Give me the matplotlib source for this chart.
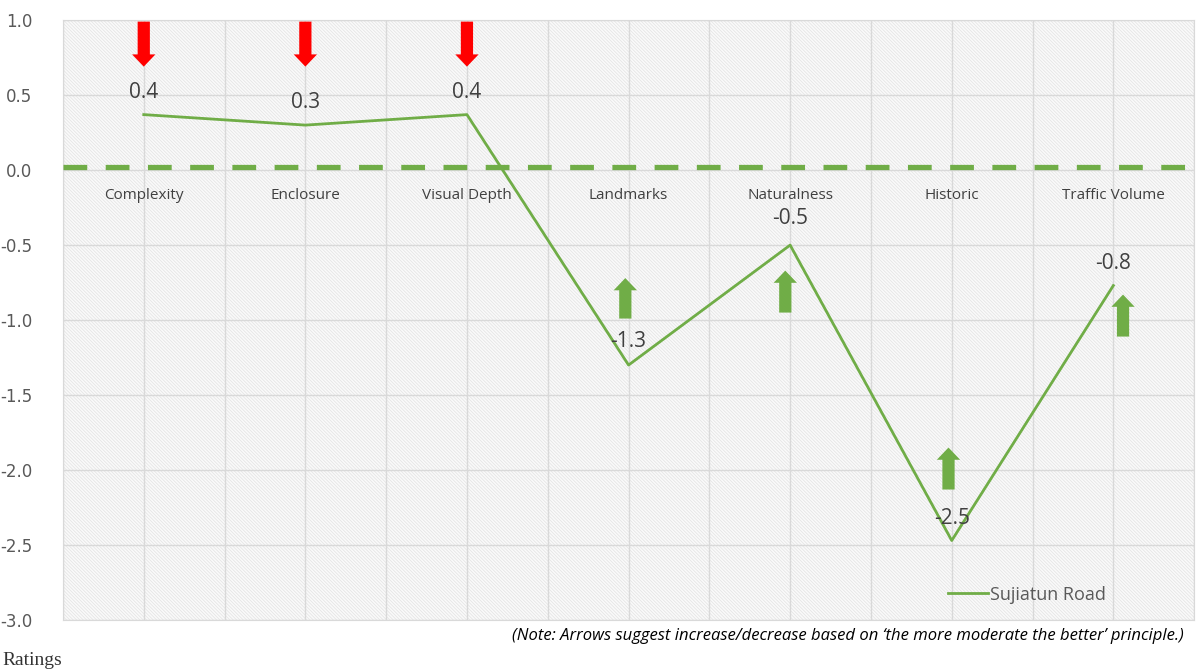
import numpy as np
import matplotlib.pyplot as plt
from matplotlib.patches import Rectangle

categories = ["Complexity", "Enclosure", "Visual Depth", "Landmarks",
              "Naturalness", "Historic", "Traffic Volume"]
ratings = [0.37, 0.30, 0.37, -1.30, -0.50, -2.47, -0.77]
series_name = "Sujiatun Road"

# suggested direction per category: -1 = decrease, +1 = increase
directions = [-1, -1, -1, 1, 1, 1, 1]
# (x offset, tail y, head y) for each arrow
arrow_spans = [(0.0, 0.99, 0.69), (0.0, 0.99, 0.69), (0.0, 0.99, 0.69),
               (-0.02, -0.99, -0.72), (-0.03, -0.95, -0.67),
               (-0.02, -2.13, -1.85), (0.06, -1.11, -0.83)]
label_y = [0.52, 0.45, 0.52, -1.14, -0.32, -2.32, -0.62]

yticks = np.arange(-3.0, 1.01, 0.5)
reference_level = 0.02

GREEN = "#70AD47"
RED = "#FF0000"
GRID = "#D9D9D9"
TEXT = "#595959"

plt.rcParams["hatch.color"] = "#E2E2E2"
plt.rcParams["hatch.linewidth"] = 0.5

fig = plt.figure(figsize=(11.97, 6.71), dpi=100)
ax = fig.add_axes([0.0526, 0.076, 0.945, 0.894])

x = np.arange(len(categories))
ax.set_xlim(-0.5, len(categories) - 0.5)
ax.set_ylim(-3.0, 1.0)

# hatched plot background
ax.add_patch(Rectangle((0, 0), 1, 1, transform=ax.transAxes, facecolor="#FAFAFA",
                       hatch="\\" * 10, edgecolor="#E2E2E2", lw=0, zorder=0))

for gy in yticks:
    ax.axhline(gy, color=GRID, lw=1, zorder=1)
for gx in np.arange(-0.5, len(categories), 0.5):
    ax.axvline(gx, color=GRID, lw=1, zorder=1)

for s in ax.spines.values():
    s.set_color(GRID)

ax.set_yticks(yticks)
ax.set_yticklabels([f"{v:.1f}" for v in yticks], fontsize=12, color=TEXT)
ax.set_xticks([])
ax.tick_params(axis="y", length=0, pad=22)

# dashed reference line just above zero
ax.axhline(reference_level, color=GREEN, lw=3.8, ls=(0, (4.5, 3.5)), zorder=3)

line, = ax.plot(x, ratings, color=GREEN, lw=2, zorder=4, label=series_name)

for xi, name in zip(x, categories):
    ax.text(xi, -0.17, name, ha="center", va="center", fontsize=11, color="#404040",
            family="Open Sans", zorder=5)

for xi, val, ly in zip(x, ratings, label_y):
    ax.text(xi, ly, f"{val:.1f}", ha="center", va="center", fontsize=15,
            color="#404040", family="Open Sans", zorder=6)

for xi, d, (dx, tail, head) in zip(x, directions, arrow_spans):
    ax.annotate("", xy=(xi + dx, head), xytext=(xi + dx, tail),
                arrowprops=dict(arrowstyle="simple,head_length=0.55,head_width=1.05,tail_width=0.55",
                                mutation_scale=16, color=RED if d < 0 else GREEN,
                                shrinkA=0, shrinkB=0, lw=0),
                zorder=6)

leg = ax.legend(handles=[line], loc="lower right", bbox_to_anchor=(0.936, 0.0),
                frameon=False, handlelength=2.2, handletextpad=0.1,
                prop={"family": "Open Sans", "size": 13})
for t in leg.get_texts():
    t.set_color(TEXT)

fig.text(0.989, 0.052, "(Note: Arrows suggest increase/decrease based on \u2018the more moderate the better\u2019 principle.)",
         ha="right", va="center", fontsize=12, style="italic", color="black", family="Open Sans")
fig.text(0.002, 0.016, "Ratings", ha="left", va="center", fontsize=14,
         family="Liberation Serif", color="#333333")

fig.savefig("out.png", dpi=100)
